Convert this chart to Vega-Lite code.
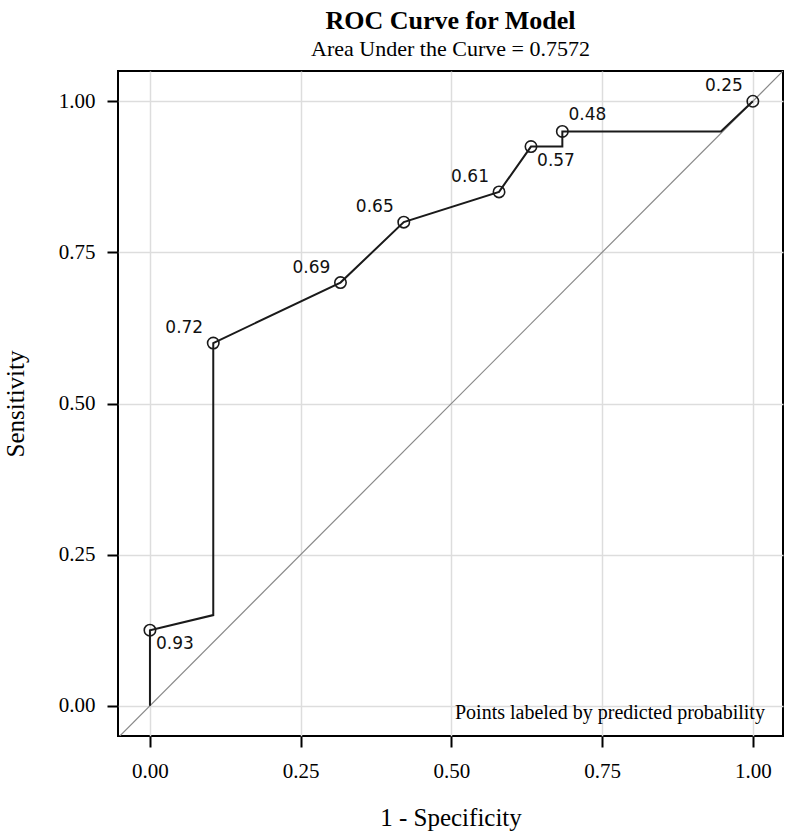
{
  "$schema": "https://vega.github.io/schema/vega-lite/v6.json",
  "autosize": {"type": "none"},
  "padding": {"left": 118, "top": 71, "right": 4, "bottom": 97},
  "width": 665,
  "height": 665,
  "background": "white",
  "title": {
    "text": "ROC Curve for Model",
    "subtitle": "Area Under the Curve = 0.7572",
    "font": "Liberation Serif",
    "fontSize": 26,
    "fontWeight": "bold",
    "color": "black",
    "subtitleFont": "Liberation Serif",
    "subtitleFontSize": 22,
    "subtitleColor": "black",
    "subtitlePadding": 5,
    "anchor": "middle",
    "offset": 11
  },
  "config": {
    "view": {"stroke": "black", "strokeWidth": 2},
    "axis": {
      "domain": false,
      "grid": true,
      "gridColor": "#dddddd",
      "gridWidth": 1.5,
      "tickColor": "black",
      "tickWidth": 2,
      "tickSize": 11,
      "labelFont": "Liberation Serif",
      "labelFontSize": 21,
      "labelColor": "black",
      "titleFont": "Liberation Serif",
      "titleFontSize": 25,
      "titleFontWeight": "normal",
      "titleColor": "black"
    }
  },
  "datasets": {
    "curve": [
      {"fpr": 0, "tpr": 0, "step": 1},
      {"fpr": 0, "tpr": 0.125, "step": 2},
      {"fpr": 0.105, "tpr": 0.15, "step": 3},
      {"fpr": 0.105, "tpr": 0.6, "step": 4},
      {"fpr": 0.316, "tpr": 0.7, "step": 5},
      {"fpr": 0.421, "tpr": 0.8, "step": 6},
      {"fpr": 0.579, "tpr": 0.85, "step": 7},
      {"fpr": 0.632, "tpr": 0.925, "step": 8},
      {"fpr": 0.684, "tpr": 0.925, "step": 9},
      {"fpr": 0.684, "tpr": 0.95, "step": 10},
      {"fpr": 0.947, "tpr": 0.95, "step": 11},
      {"fpr": 1, "tpr": 1, "step": 12}
    ],
    "points": [
      {"fpr": 0, "tpr": 0.125, "prob": "0.93"},
      {"fpr": 0.105, "tpr": 0.6, "prob": "0.72"},
      {"fpr": 0.316, "tpr": 0.7, "prob": "0.69"},
      {"fpr": 0.421, "tpr": 0.8, "prob": "0.65"},
      {"fpr": 0.579, "tpr": 0.85, "prob": "0.61"},
      {"fpr": 0.632, "tpr": 0.925, "prob": "0.57"},
      {"fpr": 0.684, "tpr": 0.95, "prob": "0.48"},
      {"fpr": 1, "tpr": 1, "prob": "0.25"}
    ],
    "diag": [
      {"fpr": -0.1, "tpr": -0.1},
      {"fpr": 1.1, "tpr": 1.1}
    ],
    "note": [
      {"fpr": 1.02, "tpr": -0.012, "note": "Points labeled by predicted probability"}
    ]
  },
  "encoding": {
    "x": {
      "field": "fpr", "type": "quantitative",
      "scale": {"domain": [-0.053, 1.05], "nice": false, "zero": false},
      "axis": {"values": [0, 0.25, 0.5, 0.75, 1], "format": ".2f", "title": "1 - Specificity", "labelPadding": 13, "titlePadding": 24}
    },
    "y": {
      "field": "tpr", "type": "quantitative",
      "scale": {"domain": [-0.05, 1.05], "nice": false, "zero": false},
      "axis": {"values": [0, 0.25, 0.5, 0.75, 1], "format": ".2f", "title": "Sensitivity", "labelPadding": 12, "titlePadding": 30}
    }
  },
  "layer": [
    {
      "data": {"name": "diag"},
      "mark": {"type": "line", "color": "#888888", "strokeWidth": 1.2, "clip": true}
    },
    {
      "data": {"name": "curve"},
      "mark": {"type": "line", "color": "#1a1a1a", "strokeWidth": 2},
      "encoding": {"order": {"field": "step", "type": "quantitative"}}
    },
    {
      "data": {"name": "points"},
      "mark": {"type": "point", "shape": "circle", "filled": false, "size": 130, "stroke": "#1a1a1a", "strokeWidth": 1.6, "opacity": 1}
    },
    {
      "data": {"name": "points"},
      "transform": [{"filter": {"field": "prob", "oneOf": ["0.72", "0.69", "0.65", "0.61", "0.25"]}}],
      "mark": {"type": "text", "font": "DejaVu Sans", "fontSize": 17, "color": "#111111", "dx": -29, "dy": -15},
      "encoding": {"text": {"field": "prob"}}
    },
    {
      "data": {"name": "points"},
      "transform": [{"filter": {"field": "prob", "oneOf": ["0.93", "0.57"]}}],
      "mark": {"type": "text", "font": "DejaVu Sans", "fontSize": 17, "color": "#111111", "dx": 25, "dy": 14},
      "encoding": {"text": {"field": "prob"}}
    },
    {
      "data": {"name": "points"},
      "transform": [{"filter": {"field": "prob", "oneOf": ["0.48"]}}],
      "mark": {"type": "text", "font": "DejaVu Sans", "fontSize": 17, "color": "#111111", "dx": 25, "dy": -16},
      "encoding": {"text": {"field": "prob"}}
    },
    {
      "data": {"name": "note"},
      "mark": {"type": "text", "font": "Liberation Serif", "fontSize": 20, "color": "black", "align": "right", "baseline": "middle"},
      "encoding": {"text": {"field": "note"}}
    }
  ]
}
